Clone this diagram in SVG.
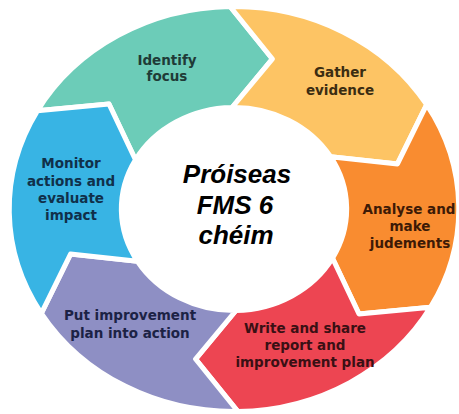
<svg xmlns="http://www.w3.org/2000/svg" width="459" height="414" viewBox="0 0 459 414">
<style>
.seg{stroke:#ffffff;stroke-width:5;stroke-linejoin:round}
.lbl{font-family:"DejaVu Sans","Open Sans",sans-serif;font-weight:700;font-size:13.5px;text-anchor:middle}
.ctr{font-family:"Liberation Sans",Arial,sans-serif;font-weight:700;font-style:italic;font-size:26px;text-anchor:middle;fill:#000}
</style>
<rect width="459" height="414" fill="#ffffff"/>
<g id="connectors"/>
<g id="identify-focus">
<path class="seg" fill="#6CCCB8" d="M37.41 110.83 A224.78 202.5 0 0 1 230.08 6.53 L272.45 58.95 L232.03 107.52 A112.67 101.5 0 0 0 135.46 159.79 L108.98 103.97 Z"/>
<text class="lbl" fill="#1f3b37" x="167" y="65">Identify<tspan x="167" dy="16">focus</tspan></text>
</g>
<g id="gather-evidence">
<path class="seg" fill="#FDC464" d="M230.08 6.53 A224.78 202.5 0 0 1 426.67 104.70 L397.47 163.97 L330.57 156.72 A112.67 101.5 0 0 0 232.03 107.52 L272.45 58.95 Z"/>
<text class="lbl" fill="#3b2d12" x="340" y="77">Gather<tspan x="340" dy="18">evidence</tspan></text>
</g>
<g id="analyse-judge">
<path class="seg" fill="#F98C30" d="M426.67 104.70 A224.78 202.5 0 0 1 430.59 307.17 L359.02 314.03 L332.54 258.21 A112.67 101.5 0 0 0 330.57 156.72 L397.47 163.97 Z"/>
<text class="lbl" fill="#3d1a06" x="409" y="214">Analyse and<tspan x="410" dy="17">make</tspan><tspan x="410" dy="17">judements</tspan></text>
</g>
<g id="write-report">
<path class="seg" fill="#ED4552" d="M430.59 307.17 A224.78 202.5 0 0 1 237.92 411.47 L195.55 359.05 L235.97 310.48 A112.67 101.5 0 0 0 332.54 258.21 L359.02 314.03 Z"/>
<text class="lbl" fill="#3a1014" x="305" y="333">Write and share<tspan x="305" dy="17">report and</tspan><tspan x="305" dy="17">improvement plan</tspan></text>
</g>
<g id="put-into-action">
<path class="seg" fill="#8E8FC4" d="M237.92 411.47 A224.78 202.5 0 0 1 41.33 313.30 L70.53 254.03 L137.43 261.28 A112.67 101.5 0 0 0 235.97 310.48 L195.55 359.05 Z"/>
<text class="lbl" fill="#1c2245" x="130" y="320">Put improvement<tspan x="130" dy="18">plan into action</tspan></text>
</g>
<g id="monitor-evaluate">
<path class="seg" fill="#38B4E4" d="M41.33 313.30 A224.78 202.5 0 0 1 37.41 110.83 L108.98 103.97 L135.46 159.79 A112.67 101.5 0 0 0 137.43 261.28 L70.53 254.03 Z"/>
<text class="lbl" fill="#10304a" x="71" y="168">Monitor<tspan x="71" dy="18">actions and</tspan><tspan x="71" dy="17">evaluate</tspan><tspan x="71" dy="17">impact</tspan></text>
</g>
<g id="center">
<ellipse cx="234" cy="209" rx="110" ry="99" fill="#ffffff"/>
<text class="ctr" x="237" y="183">Próiseas<tspan x="235" dy="31">FMS 6</tspan><tspan x="236" dy="30">chéim</tspan></text>
</g>
</svg>
